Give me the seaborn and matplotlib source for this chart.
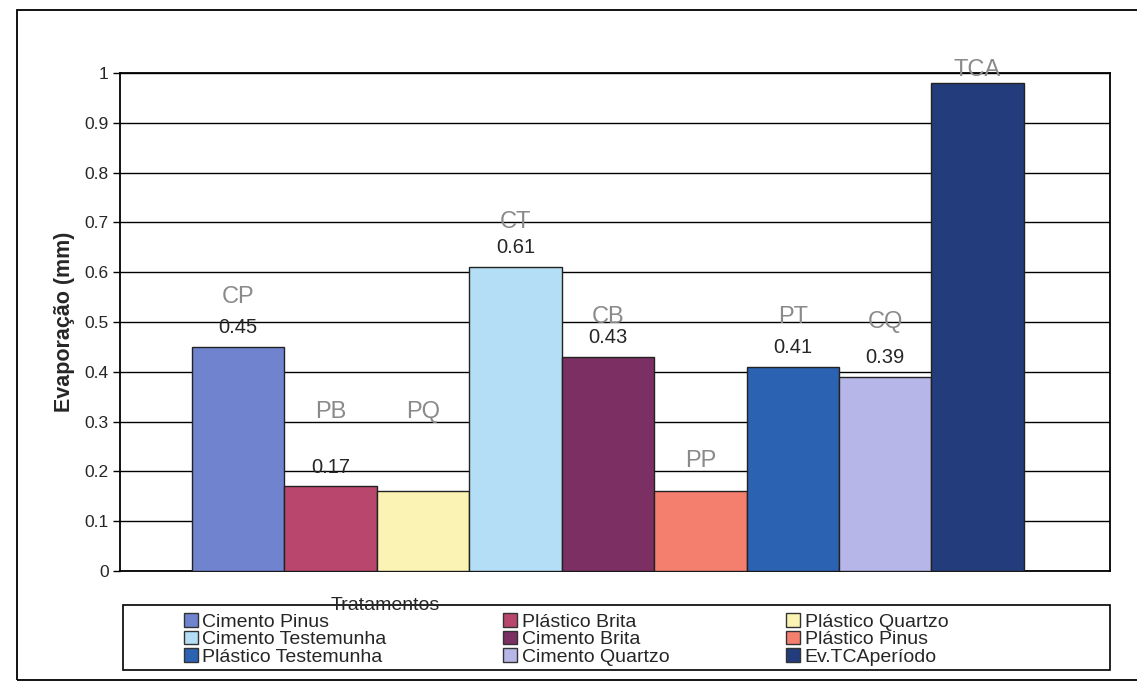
import matplotlib
matplotlib.use("Agg")
import matplotlib.pyplot as plt
from matplotlib.patches import Rectangle, Patch
import seaborn as sns

# --- DATA --- #
treatments = ["Cimento Pinus", "Plástico Brita", "Plástico Quartzo",
              "Cimento Testemunha", "Cimento Brita", "Plástico Pinus",
              "Plástico Testemunha", "Cimento Quartzo", "Ev.TCAperíodo"]
evaporation = [0.45, 0.17, 0.16, 0.61, 0.43, 0.16, 0.41, 0.39, 0.98]
value_labels = ["0.45", "0.17", "", "0.61", "0.43", "", "0.41", "0.39", ""]
hand_notes = ["CP", "PB", "PQ", "CT", "CB", "PP", "PT", "CQ", "TCA"]
y_ticks = [0, 0.1, 0.2, 0.3, 0.4, 0.5, 0.6, 0.7, 0.8, 0.9, 1.0]
y_tick_labels = ["0", "0.1", "0.2", "0.3", "0.4", "0.5", "0.6", "0.7", "0.8", "0.9", "1"]

# --- STYLE --- #
bar_colors = ["#7083cf", "#b8466d", "#fbf3b4", "#b3def6", "#7b2f63",
              "#f57f6e", "#2c62b2", "#b7b6e8", "#223c7c"]
note_heights = [0.55, 0.32, 0.32, 0.70, 0.51, 0.22, 0.51, 0.50, 1.005]

sns.set_style("white")
plt.rcParams["font.family"] = ["Liberation Sans", "DejaVu Sans"]

fig = plt.figure(figsize=(11.37, 6.88), dpi=100)
ax = fig.add_axes([0.1055, 0.170, 0.8705, 0.724])

# bars, one per treatment
sns.barplot(x=list(range(len(treatments))), y=evaporation, hue=treatments,
            palette=bar_colors, saturation=1, width=1.0, edgecolor="#222222",
            linewidth=1.0, legend=False, dodge=False, ax=ax, zorder=3)

ax.set_xlim(-1.28, 9.43)
ax.set_ylim(0, 1.0)
ax.set_yticks(y_ticks)
ax.set_yticklabels(y_tick_labels, fontsize=12.5)
ax.set_xticks([])
ax.grid(axis="y", color="black", linewidth=1.0, zorder=0)
ax.tick_params(axis="y", direction="out", length=5, width=1, color="black", pad=3, left=True)
for side in ["top", "bottom", "left", "right"]:
    ax.spines[side].set_visible(True)
    ax.spines[side].set_color("black")
    ax.spines[side].set_linewidth(1.3)
ax.set_ylabel("Evaporação (mm)", fontsize=15.5, fontweight="bold", labelpad=7)

# value labels above bars
for i, lab in enumerate(value_labels):
    if lab:
        ax.annotate(lab, (i, evaporation[i]), xytext=(0, 7), textcoords="offset points",
                    ha="center", va="bottom", fontsize=14.5, zorder=5)

# handwritten notes
for i, note in enumerate(hand_notes):
    ax.text(i, note_heights[i], note, ha="center", va="center", fontsize=17,
            color="#8a8a8a", fontweight="light", zorder=5, clip_on=False)

# axis title placed like the original
fig.text(385 / 1137, 1 - 605 / 688, "Tratamentos", ha="center", va="center", fontsize=14)

# legend box
fig.patches.append(Rectangle((123 / 1137, 1 - 670 / 688), (1110 - 123) / 1137, 65 / 688,
                             transform=fig.transFigure, fill=False, edgecolor="black",
                             linewidth=1.2))
handles = [Patch(facecolor=c, edgecolor="#333333", linewidth=1.0) for c in bar_colors]
order = [0, 3, 6, 1, 4, 7, 2, 5, 8]
fig.legend([handles[k] for k in order], [treatments[k] for k in order], ncol=3,
           loc="upper left", bbox_to_anchor=(184 / 1137, 1 - 613 / 688), frameon=False,
           fontsize=14, handlelength=0.7, handleheight=0.7, handletextpad=0.25,
           labelspacing=0.0, columnspacing=6.0, borderpad=0, borderaxespad=0)

# outer chart border
fig.patches.append(Rectangle((17 / 1137, 1 - 680 / 688), 1.0, (680 - 10) / 688,
                             transform=fig.transFigure, fill=False, edgecolor="black",
                             linewidth=1.3))

plt.savefig("out.png", dpi=100)
